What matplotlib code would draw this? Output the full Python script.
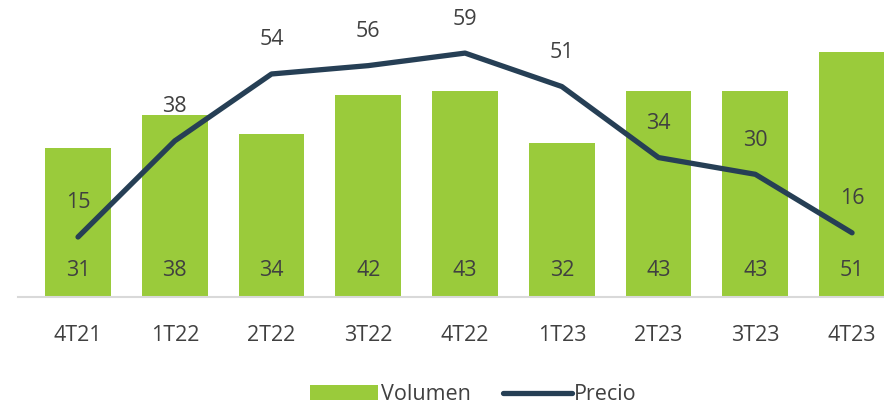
import matplotlib
matplotlib.use('Agg')
import numpy as np
from matplotlib import pyplot as plt

plt.rcParams['font.family'] = ['Open Sans', 'DejaVu Sans']

quarters = ['4T21', '1T22', '2T22', '3T22', '4T22', '1T23', '2T23', '3T23', '4T23']
volumen = [31, 38, 34, 42, 43, 32, 43, 43, 51]
precio = [15, 38, 54, 56, 59, 51, 34, 30, 16]

green = '#9ACB3B'
navy = '#263F55'
txt = '#404040'

fig = plt.figure(figsize=(8.84, 4.05), dpi=100)
ax = fig.add_axes([0.0204, 0.2667, 0.9796, 0.7333])
x = np.arange(len(quarters))

bars = ax.bar(x, volumen, width=0.68, color=green, label='Volumen', zorder=2)
ax.set_xlim(-0.62, 8.33)
ax.set_ylim(0, 61.9)
for xi, v in zip(x, volumen):
    ax.annotate(str(v), (xi, 0), xytext=(0, 19), textcoords='offset points',
                ha='center', va='center', fontsize=15.5, color=txt)

ax.set_xticks(x)
ax.set_xticklabels(quarters, fontsize=15.5, color=txt)
ax.tick_params(axis='x', length=0, pad=20)
ax.set_yticks([])
for s in ['top', 'right', 'left']:
    ax.spines[s].set_visible(False)
ax.spines['bottom'].set_color('#D9D9D9')
ax.spines['bottom'].set_linewidth(1.5)

ax2 = ax.twinx()
line, = ax2.plot(x, precio, color=navy, lw=3.8, solid_capstyle='round',
                 label='Precio', zorder=3)
ax2.set_ylim(0.65, 71.7)
ax2.set_yticks([])
for s in ['top', 'right', 'left', 'bottom']:
    ax2.spines[s].set_visible(False)
for xi, v in zip(x, precio):
    ax2.annotate(str(v), (xi, v), xytext=(0, 24.5), textcoords='offset points',
                 ha='center', va='center', fontsize=15.5, color=txt)

fig.legend([bars, line], ['Volumen', 'Precio'], loc='center',
           bbox_to_anchor=(0.535, 0.025), ncol=2, frameon=False,
           fontsize=15.5, handlelength=3.2, handletextpad=0.1,
           columnspacing=1.5, labelcolor=txt)

fig.savefig('out.png', dpi=100)
